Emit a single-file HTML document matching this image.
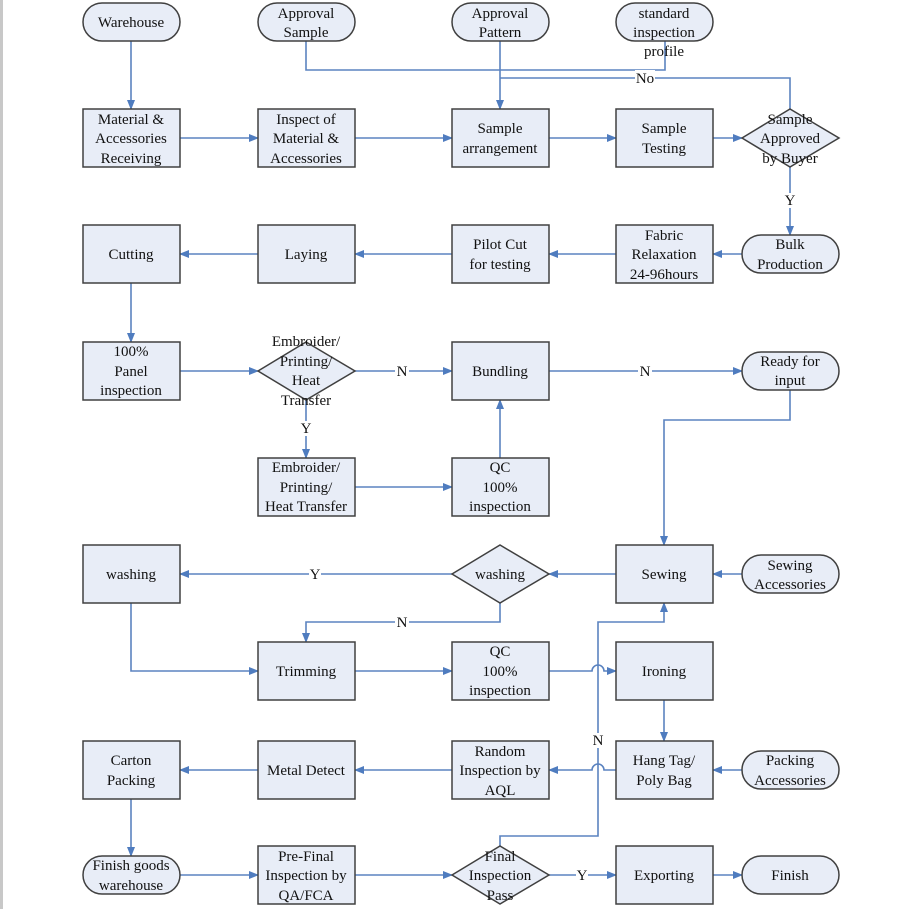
<!DOCTYPE html>
<html><head><style>
html,body{margin:0;padding:0;background:#fff;}
svg{display:block;}
text{font-family:"Liberation Serif",serif;font-size:15px;fill:#111;text-anchor:middle;}
.b{fill:#e8edf7;stroke:#404040;stroke-width:1.5;}
.c{fill:none;stroke:#5b83c0;stroke-width:1.6;}
.lb{fill:#fff;}
</style></head><body>
<svg width="907" height="909" viewBox="0 0 907 909">
<defs><marker id="a" markerWidth="10" markerHeight="10" refX="9" refY="5" orient="auto" markerUnits="userSpaceOnUse"><path d="M0,1 L10,5 L0,9 z" fill="#4f7cbf"/></marker></defs>
<rect x="0" y="0" width="3" height="909" fill="#c8c8c8"/>

<g class="c">
<path d="M131,41 V109" marker-end="url(#a)"/>
<path d="M306,41 V70 H665 V41"/>
<path d="M500,41 V109" marker-end="url(#a)"/>
<path d="M790,109 V78 H500"/>
<path d="M180,138 H258" marker-end="url(#a)"/>
<path d="M355,138 H452" marker-end="url(#a)"/>
<path d="M549,138 H616" marker-end="url(#a)"/>
<path d="M713,138 H742" marker-end="url(#a)"/>
<path d="M790,167 V235" marker-end="url(#a)"/>
<path d="M742,254 H713" marker-end="url(#a)"/>
<path d="M616,254 H549" marker-end="url(#a)"/>
<path d="M452,254 H355" marker-end="url(#a)"/>
<path d="M258,254 H180" marker-end="url(#a)"/>
<path d="M131,283 V342" marker-end="url(#a)"/>
<path d="M180,371 H258" marker-end="url(#a)"/>
<path d="M355,371 H452" marker-end="url(#a)"/>
<path d="M549,371 H742" marker-end="url(#a)"/>
<path d="M306,400 V458" marker-end="url(#a)"/>
<path d="M355,487 H452" marker-end="url(#a)"/>
<path d="M500,458 V400" marker-end="url(#a)"/>
<path d="M790,390 V420 H664 V545" marker-end="url(#a)"/>
<path d="M742,574 H713" marker-end="url(#a)"/>
<path d="M616,574 H549" marker-end="url(#a)"/>
<path d="M452,574 H180" marker-end="url(#a)"/>
<path d="M500,603 V622 H306 V642" marker-end="url(#a)"/>
<path d="M131,603 V671 H258" marker-end="url(#a)"/>
<path d="M355,671 H452" marker-end="url(#a)"/>
<path d="M549,671 H592 A6,6 0 0 1 604,671 H616" marker-end="url(#a)"/>
<path d="M664,700 V741" marker-end="url(#a)"/>
<path d="M742,770 H713" marker-end="url(#a)"/>
<path d="M616,770 H604 A6,6 0 0 0 592,770 H549" marker-end="url(#a)"/>
<path d="M452,770 H355" marker-end="url(#a)"/>
<path d="M258,770 H180" marker-end="url(#a)"/>
<path d="M131,799 V856" marker-end="url(#a)"/>
<path d="M180,875 H258" marker-end="url(#a)"/>
<path d="M355,875 H452" marker-end="url(#a)"/>
<path d="M500,846 V836 H598 V622 H664 V603" marker-end="url(#a)"/>
<path d="M549,875 H616" marker-end="url(#a)"/>
<path d="M713,875 H742" marker-end="url(#a)"/>
</g>

<rect class="lb" x="635" y="70" width="20" height="15"/>
<rect class="lb" x="784" y="193" width="12" height="15"/>
<rect class="lb" x="395" y="364" width="14" height="15"/>
<rect class="lb" x="638" y="364" width="14" height="15"/>
<rect class="lb" x="300" y="421" width="12" height="15"/>
<rect class="lb" x="309" y="567" width="12" height="15"/>
<rect class="lb" x="395" y="615" width="14" height="15"/>
<rect class="lb" x="591" y="733" width="14" height="15"/>
<rect class="lb" x="576" y="868" width="12" height="15"/>
<g>
<text x="645" y="83">No</text>
<text x="790" y="205">Y</text>
<text x="402" y="376">N</text>
<text x="645" y="376">N</text>
<text x="306" y="433">Y</text>
<text x="315" y="579">Y</text>
<text x="402" y="627">N</text>
<text x="598" y="745">N</text>
<text x="582" y="880">Y</text>
</g>

<g class="b">
<rect x="83" y="3" width="97" height="38" rx="19"/>
<rect x="258" y="3" width="97" height="38" rx="19"/>
<rect x="452" y="3" width="97" height="38" rx="19"/>
<rect x="616" y="3" width="97" height="38" rx="19"/>
<rect x="742" y="235" width="97" height="38" rx="19"/>
<rect x="742" y="352" width="97" height="38" rx="19"/>
<rect x="742" y="555" width="97" height="38" rx="19"/>
<rect x="742" y="751" width="97" height="38" rx="19"/>
<rect x="83" y="856" width="97" height="38" rx="19"/>
<rect x="742" y="856" width="97" height="38" rx="19"/>
</g>
<g class="b">
<rect x="83" y="109" width="97" height="58"/>
<rect x="258" y="109" width="97" height="58"/>
<rect x="452" y="109" width="97" height="58"/>
<rect x="616" y="109" width="97" height="58"/>
<rect x="83" y="225" width="97" height="58"/>
<rect x="258" y="225" width="97" height="58"/>
<rect x="452" y="225" width="97" height="58"/>
<rect x="616" y="225" width="97" height="58"/>
<rect x="83" y="342" width="97" height="58"/>
<rect x="452" y="342" width="97" height="58"/>
<rect x="258" y="458" width="97" height="58"/>
<rect x="452" y="458" width="97" height="58"/>
<rect x="83" y="545" width="97" height="58"/>
<rect x="616" y="545" width="97" height="58"/>
<rect x="258" y="642" width="97" height="58"/>
<rect x="452" y="642" width="97" height="58"/>
<rect x="616" y="642" width="97" height="58"/>
<rect x="83" y="741" width="97" height="58"/>
<rect x="258" y="741" width="97" height="58"/>
<rect x="452" y="741" width="97" height="58"/>
<rect x="616" y="741" width="97" height="58"/>
<rect x="258" y="846" width="97" height="58"/>
<rect x="616" y="846" width="97" height="58"/>
<path d="M742,138 L790,109 L839,138 L790,167 Z"/>
<path d="M258,371 L306,342 L355,371 L306,400 Z"/>
<path d="M452,574 L500,545 L549,574 L500,603 Z"/>
<path d="M452,875 L500,846 L549,875 L500,904 Z"/>
</g>

<g>
<text x="131" y="27">Warehouse</text>
<text x="306" y="18">Approval</text><text x="306" y="37">Sample</text>
<text x="500" y="18">Approval</text><text x="500" y="37">Pattern</text>
<text x="664" y="18">standard</text><text x="664" y="37">inspection</text><text x="664" y="56">profile</text>

<text x="131" y="124">Material &amp;</text><text x="131" y="143">Accessories</text><text x="131" y="163">Receiving</text>
<text x="306" y="124">Inspect of</text><text x="306" y="143">Material &amp;</text><text x="306" y="163">Accessories</text>
<text x="500" y="133">Sample</text><text x="500" y="153">arrangement</text>
<text x="664" y="133">Sample</text><text x="664" y="153">Testing</text>
<text x="790" y="124">Sample</text><text x="790" y="143">Approved</text><text x="790" y="163">by Buyer</text>

<text x="131" y="259">Cutting</text>
<text x="306" y="259">Laying</text>
<text x="500" y="249">Pilot Cut</text><text x="500" y="269">for testing</text>
<text x="664" y="240">Fabric</text><text x="664" y="259">Relaxation</text><text x="664" y="279">24-96hours</text>
<text x="790" y="249">Bulk</text><text x="790" y="269">Production</text>

<text x="131" y="356">100%</text><text x="131" y="376">Panel</text><text x="131" y="395">inspection</text>
<text x="306" y="346">Embroider/</text><text x="306" y="366">Printing/</text><text x="306" y="385">Heat</text><text x="306" y="405">Transfer</text>
<text x="500" y="376">Bundling</text>
<text x="790" y="366">Ready for</text><text x="790" y="385">input</text>

<text x="306" y="472">Embroider/</text><text x="306" y="492">Printing/</text><text x="306" y="511">Heat Transfer</text>
<text x="500" y="472">QC</text><text x="500" y="492">100%</text><text x="500" y="511">inspection</text>

<text x="131" y="579">washing</text>
<text x="500" y="579">washing</text>
<text x="664" y="579">Sewing</text>
<text x="790" y="570">Sewing</text><text x="790" y="589">Accessories</text>

<text x="306" y="676">Trimming</text>
<text x="500" y="656">QC</text><text x="500" y="676">100%</text><text x="500" y="695">inspection</text>
<text x="664" y="676">Ironing</text>

<text x="131" y="765">Carton</text><text x="131" y="785">Packing</text>
<text x="306" y="775">Metal Detect</text>
<text x="500" y="756">Random</text><text x="500" y="775">Inspection by</text><text x="500" y="795">AQL</text>
<text x="664" y="765">Hang Tag/</text><text x="664" y="785">Poly Bag</text>
<text x="790" y="765">Packing</text><text x="790" y="785">Accessories</text>

<text x="131" y="870">Finish goods</text><text x="131" y="890">warehouse</text>
<text x="306" y="861">Pre-Final</text><text x="306" y="880">Inspection by</text><text x="306" y="900">QA/FCA</text>
<text x="500" y="861">Final</text><text x="500" y="880">Inspection</text><text x="500" y="900">Pass</text>
<text x="664" y="880">Exporting</text>
<text x="790" y="880">Finish</text>
</g>
</svg>
</body></html>
